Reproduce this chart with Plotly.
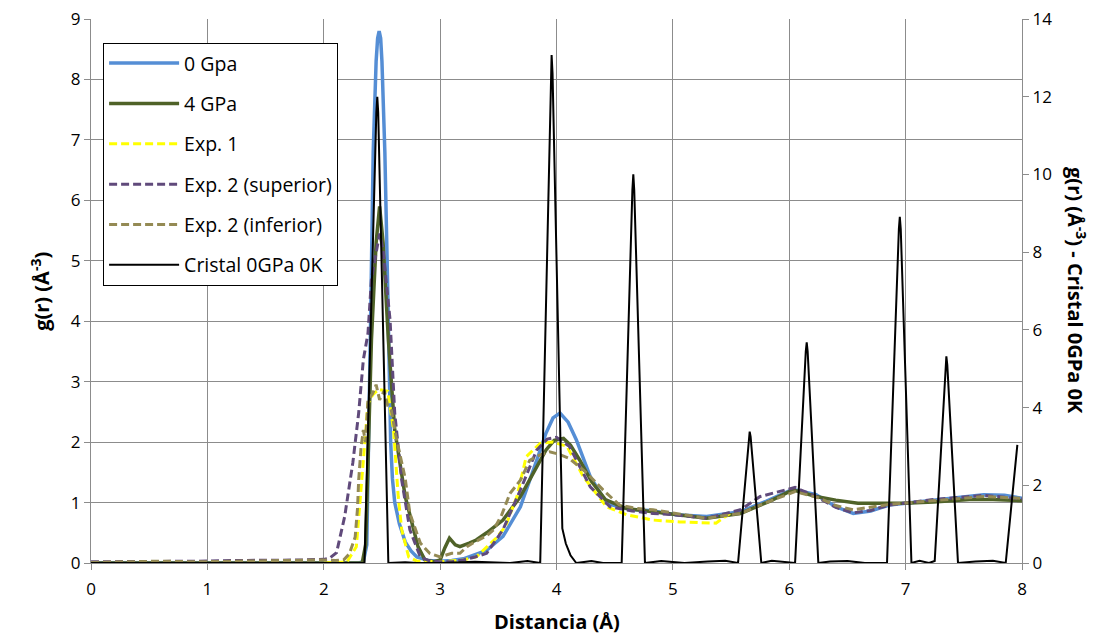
import plotly.graph_objects as go

# ---------------- data ----------------
x_0gpa = [0, 1.0, 2.0, 2.3, 2.34, 2.37, 2.40, 2.425, 2.45, 2.463, 2.476, 2.489, 2.50, 2.525, 2.55, 2.565,
          2.575, 2.59, 2.61, 2.65, 2.70, 2.75, 2.8, 2.9, 3.0, 3.1, 3.2, 3.3, 3.4, 3.54, 3.69, 3.83, 3.91,
          3.97, 4.03, 4.1, 4.17, 4.29, 4.43, 4.55, 4.66, 4.8, 5.03, 5.29, 5.58, 5.8, 6.03, 6.23, 6.4,
          6.55, 6.7, 6.86, 7.05, 7.24, 7.5, 7.67, 7.85, 8.0]
y_0gpa = [0, 0, 0, 0, 0.02, 0.3, 3.7, 6.8, 8.3, 8.68, 8.8, 8.68, 8.3, 6.8, 4.5, 3.0,
          2.0, 1.4, 1.0, 0.65, 0.35, 0.2, 0.1, 0.04, 0.03, 0.04, 0.07, 0.14, 0.21, 0.44, 0.93, 1.7, 2.15,
          2.4, 2.48, 2.33, 2.04, 1.43, 0.99, 0.92, 0.88, 0.87, 0.80, 0.77, 0.85, 1.02, 1.22, 1.13, 0.93,
          0.82, 0.86, 0.96, 1.0, 1.04, 1.1, 1.13, 1.12, 1.07]

x_4gpa = [0, 1.0, 2.0, 2.33, 2.36, 2.39, 2.41, 2.45, 2.48, 2.51, 2.555, 2.61, 2.70, 2.81, 2.87, 2.95,
          3.0, 3.04, 3.08, 3.13, 3.17, 3.25, 3.31, 3.4, 3.54, 3.69, 3.83, 3.91, 3.98, 4.06, 4.12, 4.2,
          4.3, 4.42, 4.6, 4.8, 5.0, 5.29, 5.58, 5.83, 6.03, 6.23, 6.4, 6.59, 6.99, 7.24, 7.55, 7.75, 8.0]
y_4gpa = [0, 0, 0, 0, 0.3, 2.2, 3.7, 5.3, 5.9, 5.3, 3.7, 2.2, 1.1, 0.27, 0.05, 0.02,
          0.05, 0.25, 0.41, 0.3, 0.27, 0.33, 0.38, 0.5, 0.71, 1.1, 1.6, 1.87, 2.03, 2.06, 1.95, 1.7,
          1.35, 1.05, 0.9, 0.85, 0.8, 0.74, 0.82, 1.02, 1.21, 1.1, 1.04, 0.99, 0.99, 1.01, 1.05, 1.05, 1.03]

x_exp1 = [2.0, 2.2, 2.28, 2.34, 2.38, 2.42, 2.47, 2.55, 2.60, 2.64, 2.67, 2.73, 2.8, 3.0, 3.2, 3.31,
          3.48, 3.56, 3.66, 3.74, 3.86, 3.97, 4.09, 4.23, 4.43, 4.6, 4.83, 5.06, 5.37, 5.49]
y_exp1 = [0, 0.02, 0.27, 1.65, 2.64, 2.78, 2.87, 2.84, 2.2, 1.1, 0.55, 0.1, 0.03, 0.02, 0.05, 0.1,
          0.41, 0.6, 1.1, 1.76, 1.98, 2.0, 1.93, 1.43, 0.93, 0.8, 0.71, 0.68, 0.66, 0.82]

x_exp2s = [0, 0.3, 0.6, 0.9, 1.2, 1.5, 1.8, 2.0, 2.05, 2.11, 2.18, 2.25, 2.30, 2.34, 2.38, 2.41, 2.48,
           2.51, 2.57, 2.61, 2.67, 2.74, 2.83, 2.9, 3.0, 3.1, 3.2, 3.3, 3.4, 3.54, 3.69, 3.83, 3.92,
           4.0, 4.11, 4.29, 4.46, 4.65, 4.83, 5.0, 5.29, 5.58, 5.75, 6.05, 6.23, 6.4, 6.55, 6.7, 6.86,
           7.24, 7.67, 8.0]
y_exp2s = [0.02, 0.02, 0.03, 0.03, 0.04, 0.04, 0.05, 0.06, 0.08, 0.17, 0.77, 1.66, 2.48, 3.36, 3.8, 4.7, 5.45,
           5.18, 4.02, 2.48, 1.37, 0.55, 0.1, 0.04, 0.02, 0.02, 0.05, 0.1, 0.16, 0.55, 1.21, 1.87, 2.05,
           2.08, 1.93, 1.26, 0.93, 0.86, 0.82, 0.8, 0.74, 0.88, 1.1, 1.25, 1.1, 0.92, 0.83, 0.87, 0.96,
           1.05, 1.12, 1.06]

x_exp2i = [0, 0.3, 0.6, 0.9, 1.2, 1.5, 1.8, 2.0, 2.1, 2.17, 2.22, 2.27, 2.29, 2.30, 2.32, 2.34, 2.36,
           2.38, 2.42, 2.45, 2.48, 2.52, 2.55, 2.58, 2.62, 2.67, 2.70, 2.74, 2.78, 2.83, 2.91, 3.0,
           3.1, 3.17, 3.23, 3.3, 3.4, 3.46, 3.53, 3.6, 3.69, 3.77, 3.85, 3.94, 4.02, 4.11, 4.26, 4.40,
           4.54, 4.7, 4.83, 5.0, 5.29, 5.58, 5.8, 6.05, 6.25, 6.4, 6.55, 6.86, 7.24, 7.67, 8.0]
y_exp2i = [0.01, 0.02, 0.03, 0.02, 0.03, 0.04, 0.05, 0.05, 0.04, 0.05, 0.15, 0.43, 0.9, 1.37, 1.9, 2.2, 2.0,
           2.7, 2.8, 2.95, 2.7, 2.85, 2.6, 2.53, 2.1, 1.65, 1.4, 0.82, 0.6, 0.33, 0.16, 0.1,
           0.16, 0.16, 0.27, 0.35, 0.45, 0.55, 0.8, 1.15, 1.37, 1.7, 1.78, 1.84, 1.8, 1.73, 1.49, 1.21,
           0.96, 0.9, 0.88, 0.83, 0.74, 0.82, 1.0, 1.18, 1.08, 0.95, 0.88, 0.97, 1.03, 1.1, 1.07]

x_cristal = [0, 1.0, 2.0, 2.35, 2.452, 2.46, 2.468, 2.555, 2.7, 2.8, 3.0, 3.3, 3.6, 3.75, 3.86,
             3.95, 3.958, 3.966, 4.05, 4.08, 4.12, 4.17, 4.3, 4.4, 4.56, 4.652, 4.66, 4.668, 4.76,
             4.9, 5.1, 5.3, 5.45, 5.56, 5.652, 5.66, 5.668, 5.76, 5.85, 5.95, 6.05, 6.142, 6.15,
             6.158, 6.25, 6.35, 6.5, 6.65, 6.84, 6.942, 6.95, 6.958, 7.05, 7.12, 7.2, 7.25, 7.342,
             7.35, 7.358, 7.45, 7.6, 7.75, 7.86, 7.96]
y_cristal = [0, 0, 0, 0, 11.6, 12.0, 11.6, 0, 0.02, 0, 0, 0.03, 0, 0.05, 0,
             12.6, 13.07, 12.6, 0.89, 0.5, 0.2, 0, 0.05, 0, 0, 9.6, 10.0, 9.6, 0,
             0.05, 0, 0.04, 0.06, 0, 3.25, 3.38, 3.25, 0, 0.06, 0.03, 0, 5.45, 5.68,
             5.45, 0, 0.04, 0.05, 0, 0, 8.6, 8.91, 8.6, 0, 0.06, 0, 0.05, 5.1,
             5.32, 5.1, 0, 0.04, 0.06, 0, 3.04]

names = ["0 Gpa", "4 GPa", "Exp. 1", "Exp. 2 (superior)", "Exp. 2 (inferior)", "Cristal 0GPa 0K"]
x_ticks = [0, 1, 2, 3, 4, 5, 6, 7, 8]

# ---------------- figure ----------------
FONT = "Open Sans, Noto Sans, sans-serif"
GRID = "#8c8c8c"

fig = go.Figure()
series = [
    (x_0gpa, y_0gpa, names[0], dict(color="#558ED5", width=3.5)),
    (x_4gpa, y_4gpa, names[1], dict(color="#4F6228", width=3.5)),
    (x_exp1, y_exp1, names[2], dict(color="#FFFF00", width=3, dash="8px,4px")),
    (x_exp2s, y_exp2s, names[3], dict(color="#604A7B", width=3, dash="8px,4px")),
    (x_exp2i, y_exp2i, names[4], dict(color="#948A54", width=3, dash="8px,4px")),
]
for i, (xs, ys, nm, ln) in enumerate(series):
    fig.add_trace(go.Scatter(x=xs, y=ys, name=nm, mode="lines", line=ln,
                             legendgroup=f"g{i}", yaxis="y"))
fig.add_trace(go.Scatter(x=x_cristal, y=y_cristal, name=names[5], mode="lines",
                         line=dict(color="#000000", width=2), legendgroup="g5", yaxis="y2"))

TITLE_FONT = dict(family=FONT, size=20, color="#000000")
AX = dict(showline=True, linecolor=GRID, linewidth=1.3, ticks="outside", ticklen=6,
          tickcolor=GRID, zeroline=False, automargin=False, ticklabeloverflow="allow")

fig.update_layout(
    width=1097, height=626,
    margin=dict(l=83, r=83, t=11, b=71),
    paper_bgcolor="white", plot_bgcolor="white",
    font=dict(family=FONT, size=17, color="#000000"),
    showlegend=True,
    legend=dict(x=0.013, y=0.956, xanchor="left", yanchor="top",
                bgcolor="white", bordercolor="#000000", borderwidth=1,
                font=dict(family=FONT, size=19.5, color="#000000"),
                tracegroupgap=12, itemwidth=70),
    xaxis=dict(range=[0, 8], tickvals=x_ticks, showgrid=True, gridcolor=GRID, gridwidth=1.3,
               ticklabelstandoff=4, **AX),
    yaxis=dict(range=[0, 9], dtick=1, showgrid=True, gridcolor=GRID, gridwidth=1.3, **AX),
    yaxis2=dict(range=[0, 14], dtick=2, overlaying="y", side="right", showgrid=False, **AX),
    annotations=[
        dict(text="<b>Distancia (Å)</b>", xref="paper", yref="paper", x=0.5, y=-0.107,
             xanchor="center", yanchor="middle", showarrow=False, font=TITLE_FONT),
        dict(text="<b>g(r) (Å<sup>-3</sup>)</b>", xref="paper", yref="paper", x=-0.055, y=0.5,
             xanchor="center", yanchor="middle", textangle=-90, showarrow=False, font=TITLE_FONT),
        dict(text="<b>g(r) (Å<sup>-3</sup>) - Cristal 0GPa 0K</b>", xref="paper", yref="paper",
             x=1.059, y=0.5, xanchor="center", yanchor="middle", textangle=90, showarrow=False,
             font=TITLE_FONT),
    ],
)

fig.write_html("out.html")
